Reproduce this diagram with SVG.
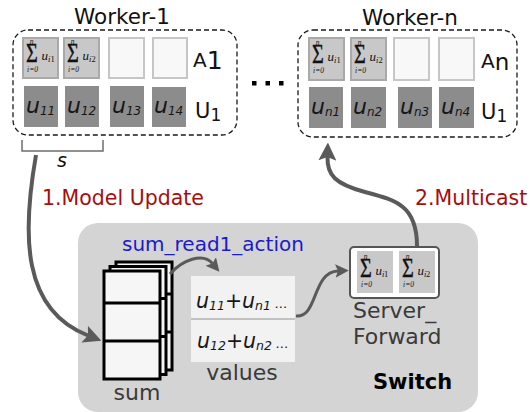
<svg xmlns="http://www.w3.org/2000/svg" xmlns:xlink="http://www.w3.org/1999/xlink" width="531" height="412" viewBox="0 0 531 412">
  <style>
    .sans { font-family: "DejaVu Sans", Verdana, sans-serif; }
    .title { font-family: "DejaVu Sans", Verdana, sans-serif; font-size: 21.5px; fill: #111; }
    .label { font-family: "DejaVu Sans", Verdana, sans-serif; font-size: 22px; fill: #3a3a3a; }
    .red { font-family: "DejaVu Sans", Verdana, sans-serif; font-size: 20.5px; fill: #a50e0e; }
    .blue { font-family: "DejaVu Sans", Verdana, sans-serif; font-size: 20px; fill: #1a1acc; }
    .math { font-family: "Liberation Serif", "DejaVu Serif", serif; fill: #111; }
    .it { font-style: italic; }
    .var { font-family: "DejaVu Sans", Verdana, sans-serif; font-style: italic; fill: #161616; }
    .worker { fill: none; stroke: #1a1a1a; stroke-width: 1.3; stroke-dasharray: 5 3; }
    .acell { fill: #c8c8c8; stroke: #a9a9a9; stroke-width: 2; }
    .ecell { fill: #f8f8f8; stroke: #c6c6c6; stroke-width: 2; }
    .ucell { fill: #8c8c8c; }
    .reg { fill: #f6f6f6; stroke: #000; stroke-width: 3; }
    .conn { fill: none; stroke: #5a5a5a; marker-end: url(#ah); }
  </style>
  <defs>
    <marker id="ah" viewBox="0 0 10 10" refX="2" refY="5" markerWidth="4.5" markerHeight="4.5" orient="auto" markerUnits="strokeWidth">
      <path d="M0,0 L10,5 L0,10 L2,5 z" fill="#5a5a5a"/>
    </marker>
    <!-- summation over i=0..n of u_i, cell-relative; column digit is added per cell -->
    <g id="sigma">
      <text class="math it" x="8.5" y="5.5" font-size="7.5" text-anchor="middle">n</text>
      <text class="math" x="3" y="24.5" font-size="26" stroke="#111" stroke-width="0.4" transform="translate(3,24.5) scale(0.78,1.05) translate(-3,-24.5)">Σ</text>
      <text class="math it" x="9.5" y="34" font-size="7.5" text-anchor="middle">i=0</text>
      <text class="math it" x="18.5" y="22" font-size="13">u</text>
      <text class="math it" x="25" y="24" font-size="8.5">i</text>
    </g>
    <!-- stacked register array layer -->
    <g id="reglayer">
      <rect class="reg" x="0" y="0" width="56" height="108"/>
      <line x1="0" y1="32" x2="56" y2="32" stroke="#000" stroke-width="3"/>
      <line x1="0" y1="70" x2="56" y2="70" stroke="#000" stroke-width="3"/>
    </g>
  </defs>

  <rect width="531" height="412" fill="#fff"/>

  <!-- switch -->
  <g id="switch">
    <rect x="78" y="223" width="400" height="189" rx="20" fill="#d4d4d4"/>
    <text x="373" y="389" font-family="DejaVu Sans, Verdana, sans-serif" font-size="21" font-weight="bold" fill="#000">Switch</text>
  </g>

  <!-- worker 1 -->
  <g id="worker-1">
    <text class="title" x="122" y="23.5" text-anchor="middle">Worker-1</text>
    <rect class="worker" x="13" y="30" width="224" height="105" rx="15"/>
    <rect class="acell" x="23" y="38" width="35" height="40"/>
    <use xlink:href="#sigma" x="23" y="38"/>
    <text class="math" x="50.5" y="62" font-size="8.5">1</text>
    <rect class="acell" x="64" y="38" width="35" height="40"/>
    <use xlink:href="#sigma" x="64" y="38"/>
    <text class="math" x="91.5" y="62" font-size="8.5">2</text>
    <rect class="ecell" x="109" y="38" width="35" height="40"/>
    <rect class="ecell" x="153" y="38" width="34" height="40"/>
    <text class="sans" x="193" y="67" font-size="20" fill="#111">A<tspan font-size="25" dy="2">1</tspan></text>

    <rect class="ucell" x="24" y="86" width="34" height="41"/>
    <rect class="ucell" x="65" y="86" width="34" height="41"/>
    <rect class="ucell" x="110" y="86" width="34" height="41"/>
    <rect class="ucell" x="152" y="87" width="34" height="40"/>
    <text class="var" x="26" y="113" font-size="22">u<tspan font-size="12" dy="2">11</tspan></text>
    <text class="var" x="67" y="113" font-size="22">u<tspan font-size="12" dy="2">12</tspan></text>
    <text class="var" x="112" y="113" font-size="22">u<tspan font-size="12" dy="2">13</tspan></text>
    <text class="var" x="154" y="113" font-size="22">u<tspan font-size="12" dy="2">14</tspan></text>
    <text class="sans" x="195" y="118" font-size="21" fill="#111">U<tspan font-size="17" dy="3">1</tspan></text>

    <!-- width bracket -->
    <path d="M22 140 V151 H103 V140" fill="none" stroke="#6e6e6e" stroke-width="1.5"/>
    <text class="sans" x="62" y="167" font-size="19" font-style="italic" text-anchor="middle" fill="#111">s</text>
  </g>

  <!-- ellipsis between workers -->
  <g id="more-workers" fill="#000">
    <rect x="252" y="81" width="4.5" height="4.5"/>
    <rect x="265.5" y="81" width="4.5" height="4.5"/>
    <rect x="279" y="81" width="4.5" height="4.5"/>
  </g>

  <!-- worker n -->
  <g id="worker-n">
    <text class="title" x="410" y="24.5" text-anchor="middle">Worker-n</text>
    <rect class="worker" x="298" y="30" width="219" height="107" rx="15"/>
    <rect class="acell" x="309" y="38" width="35" height="42"/>
    <use xlink:href="#sigma" x="309" y="39"/>
    <text class="math" x="336.5" y="63" font-size="8.5">1</text>
    <rect class="acell" x="351" y="38" width="35" height="42"/>
    <use xlink:href="#sigma" x="351" y="39"/>
    <text class="math" x="378.5" y="63" font-size="8.5">2</text>
    <rect class="ecell" x="394" y="38" width="35" height="42"/>
    <rect class="ecell" x="439" y="38" width="35" height="42"/>
    <text class="sans" x="481" y="68" font-size="20" fill="#111">A<tspan font-size="23" dy="2">n</tspan></text>

    <rect class="ucell" x="309" y="87" width="34" height="41"/>
    <rect class="ucell" x="351" y="87" width="35" height="41"/>
    <rect class="ucell" x="398" y="87" width="34" height="41"/>
    <rect class="ucell" x="439" y="87" width="35" height="41"/>
    <text class="var" x="311" y="114" font-size="22">u<tspan font-size="12" dy="2">n1</tspan></text>
    <text class="var" x="353" y="114" font-size="22">u<tspan font-size="12" dy="2">n2</tspan></text>
    <text class="var" x="400" y="114" font-size="22">u<tspan font-size="12" dy="2">n3</tspan></text>
    <text class="var" x="441" y="114" font-size="22">u<tspan font-size="12" dy="2">n4</tspan></text>
    <text class="sans" x="481" y="119" font-size="21" fill="#111">U<tspan font-size="17" dy="3">1</tspan></text>
  </g>

  <!-- sum register array -->
  <g id="sum">
    <use xlink:href="#reglayer" x="116" y="262"/>
    <use xlink:href="#reglayer" x="110" y="266.5"/>
    <use xlink:href="#reglayer" x="104" y="271"/>
    <text class="label" x="137" y="400" text-anchor="middle">sum</text>
    <text class="blue" x="122" y="251">sum_read1_action</text>
  </g>

  <!-- values table -->
  <g id="values">
    <rect x="191" y="276" width="104" height="86" fill="#f2f2f2"/>
    <line x1="191" y1="319" x2="295" y2="319" stroke="#c2c2c2" stroke-width="2"/>
    <text class="var" x="196" y="308" font-size="20.5">u<tspan font-size="12.5" dy="2">11</tspan><tspan font-style="normal" dy="-2">+</tspan>u<tspan font-size="12.5" dy="2">n1</tspan><tspan font-size="13" dy="-2"> ...</tspan></text>
    <text class="var" x="197" y="348" font-size="20.5">u<tspan font-size="12.5" dy="2">12</tspan><tspan font-style="normal" dy="-2">+</tspan>u<tspan font-size="12.5" dy="2">n2</tspan><tspan font-size="13" dy="-2"> ...</tspan></text>
    <text class="label" x="242" y="380" text-anchor="middle">values</text>
  </g>

  <!-- server forward table -->
  <g id="server-forward">
    <rect x="350" y="247" width="89" height="51" rx="4" fill="#fff" stroke="#555" stroke-width="2"/>
    <rect x="357" y="251" width="36" height="42" fill="#c8c8c8"/>
    <use xlink:href="#sigma" x="357" y="253"/>
    <text class="math" x="384" y="277" font-size="8.5">1</text>
    <rect x="399" y="251" width="36" height="42" fill="#c8c8c8"/>
    <use xlink:href="#sigma" x="399" y="253"/>
    <text class="math" x="426" y="277" font-size="8.5">2</text>
    <text class="label" x="353" y="318">Server_</text>
    <text class="label" x="353" y="344">Forward</text>
  </g>

  <!-- connectors -->
  <g id="connectors">
    <path class="conn" stroke-width="4" d="M36 155 C22 235, 22 310, 88 335.5"/>
    <path class="conn" stroke-width="4" d="M417 246 C417 205, 395 200, 365 192 C335 184, 327 175, 327.5 157"/>
    <path class="conn" stroke-width="3" d="M170 274 C182 260, 203 252, 212.5 263.5"/>
    <path class="conn" stroke-width="3" d="M296 316 C318 318, 312 272, 338 271"/>
    <text class="red" x="42" y="205">1.Model Update</text>
    <text class="red" x="415" y="205">2.Multicast</text>
  </g>
</svg>
